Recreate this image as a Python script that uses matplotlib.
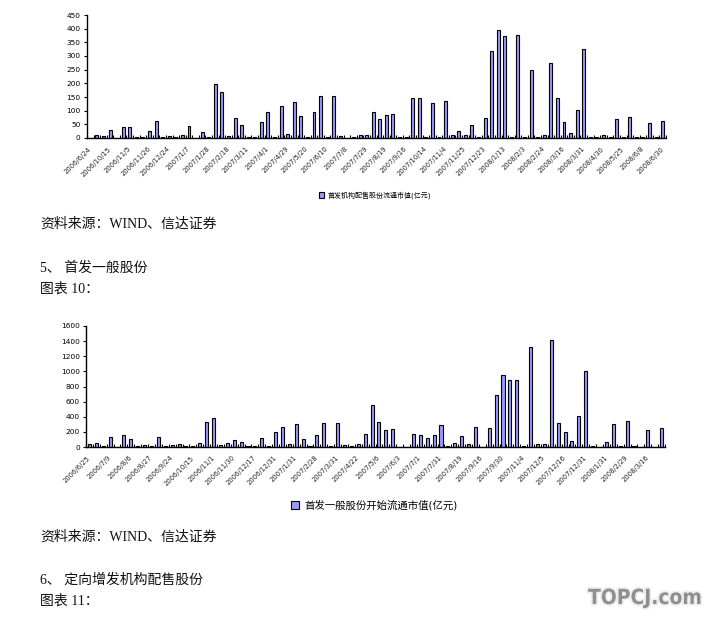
import numpy as np
import matplotlib
matplotlib.use("Agg")
import matplotlib.pyplot as plt
import matplotlib.patheffects as pe

plt.rcParams['font.family'] = ['DejaVu Sans', 'Noto Sans CJK SC']

# chart 1 : 首发机构配售股份流通市值(亿元)
inst_vals = [0, 10, 6, 29, 0, 40, 40, 5, 4, 24, 61, 4, 6, 4, 10, 43, 0, 21, 4, 196,
             170, 6, 75, 46, 4, 4, 57, 94, 4, 116, 14, 130, 79, 4, 94, 152, 4, 152, 7, 0,
             4, 10, 11, 94, 69, 83, 88, 2, 2, 146, 148, 3, 127, 3, 135, 10, 24, 11, 46, 3,
             73, 318, 394, 372, 3, 376, 3, 247, 5, 11, 274, 146, 58, 18, 102, 325, 3, 3, 11, 3,
             69, 5, 77, 2, 2, 55, 3, 62]
inst_labels = ["2006/6/24", "2006/10/15", "2006/11/5", "2006/11/26", "2006/12/24",
               "2007/1/7", "2007/1/28", "2007/2/18", "2007/3/11", "2007/4/1",
               "2007/4/29", "2007/5/20", "2007/6/10", "2007/7/8", "2007/7/29",
               "2007/8/19", "2007/9/16", "2007/10/14", "2007/11/4", "2007/11/25",
               "2007/12/23", "2008/1/13", "2008/2/3", "2008/2/24", "2008/3/16",
               "2008/3/31", "2008/4/30", "2008/5/25", "2008/6/8", "2008/6/30"]
inst_name = "首发机构配售股份流通市值(亿元)"

# chart 2 : 首发一般股份开始流通市值(亿元)
gen_vals = [40, 53, 15, 132, 0, 159, 106, 15, 20, 15, 132, 15, 20, 40, 15, 15, 53, 331, 384, 25,
            53, 93, 66, 15, 15, 119, 15, 198, 265, 40, 304, 106, 15, 159, 318, 15, 318, 20, 15, 40,
            172, 551, 326, 220, 238, 5, 5, 168, 154, 119, 154, 287, 10, 49, 141, 35, 260, 5, 247, 684,
            948, 882, 882, 10, 1318, 35, 35, 1411, 313, 194, 75, 406, 1001, 10, 5, 62, 300, 10, 340, 10,
            5, 220, 5, 247]
gen_labels = ["2006/6/25", "2006/7/9", "2006/8/6", "2006/8/27", "2006/9/24", "2006/10/15",
              "2006/11/1", "2006/11/30", "2006/12/17", "2006/12/31", "2007/1/31", "2007/2/28",
              "2007/3/31", "2007/4/22", "2007/5/6", "2007/6/3", "2007/7/1", "2007/7/31",
              "2007/8/19", "2007/9/16", "2007/9/30", "2007/11/4", "2007/12/5", "2007/12/16",
              "2007/12/31", "2008/1/31", "2008/2/29", "2008/3/16"]
gen_name = "首发一般股份开始流通市值(亿元)"

bar_color = '#9999ff'

fig = plt.figure(figsize=(7.1, 6.19), dpi=100)


def draw_chart(rect, vals, labels, ymax, ystep, name, leg_xy, leg_size):
    ax = fig.add_axes(rect)
    n = len(vals)
    x = np.arange(n)
    ax.bar(x, vals, width=0.45, color=bar_color, edgecolor='black', linewidth=0.8,
           label=name)
    ax.set_xlim(-0.5, n - 0.5)
    ax.set_ylim(0, ymax)
    ax.set_yticks(np.arange(0, ymax + 1, ystep))
    ax.tick_params(axis='y', labelsize=5.3, length=2.5, width=0.8, pad=2)
    ax.set_xticks(np.arange(0, n, 3))
    ax.set_xticklabels(labels[:len(range(0, n, 3))], rotation=45, ha='right',
                       va='center', rotation_mode='anchor', fontsize=4.9,
                       color='#222222')
    ax.tick_params(axis='x', which='major', length=0, pad=7)
    ax.set_xticks(np.arange(-0.5, n, 1), minor=True)
    ax.tick_params(axis='x', which='minor', direction='in', length=2, width=0.8)
    for s in ['top', 'right']:
        ax.spines[s].set_visible(False)
    for s in ['left', 'bottom']:
        ax.spines[s].set_linewidth(1.0)
    ax.legend(loc='center', bbox_to_anchor=leg_xy, bbox_transform=fig.transFigure,
              frameon=False, handlelength=0.8, handleheight=0.8,
              handletextpad=0.5, prop={'family': ['DejaVu Sans', 'Noto Sans CJK SC'],
                                       'size': leg_size})
    return ax


draw_chart([87 / 710, 1 - 138 / 619, 579 / 710, 123 / 619], inst_vals, inst_labels,
           450, 50, inst_name, (375 / 710, 1 - 195 / 619), 5)
draw_chart([86 / 710, 1 - 447 / 619, 579 / 710, 121 / 619], gen_vals, gen_labels,
           1600, 200, gen_name, (374 / 710, 1 - 505 / 619), 7.5)

doc_font = ['Liberation Serif', 'Noto Sans CJK SC']
texts = [(224, "资料来源：WIND、信达证券"),
         (268, "5、 首发一般股份"),
         (289, "图表 10："),
         (537, "资料来源：WIND、信达证券"),
         (580, "6、 定向增发机构配售股份"),
         (601, "图表 11：")]
for y, t in texts:
    fig.text(40 / 710, 1 - y / 619, t, family=doc_font, fontsize=10, va='center',
             ha='left', color='#111111')

wm = fig.text(645 / 710, 1 - 598 / 619, "TOPCJ.com", family='DejaVu Sans',
              fontsize=15, fontweight='bold', color='#8f8f8f', ha='center', va='center',
              fontstretch='condensed')
wm.set_path_effects([pe.withStroke(linewidth=2.5, foreground='#eeeeee')])

fig.savefig('out.png', dpi=100)
